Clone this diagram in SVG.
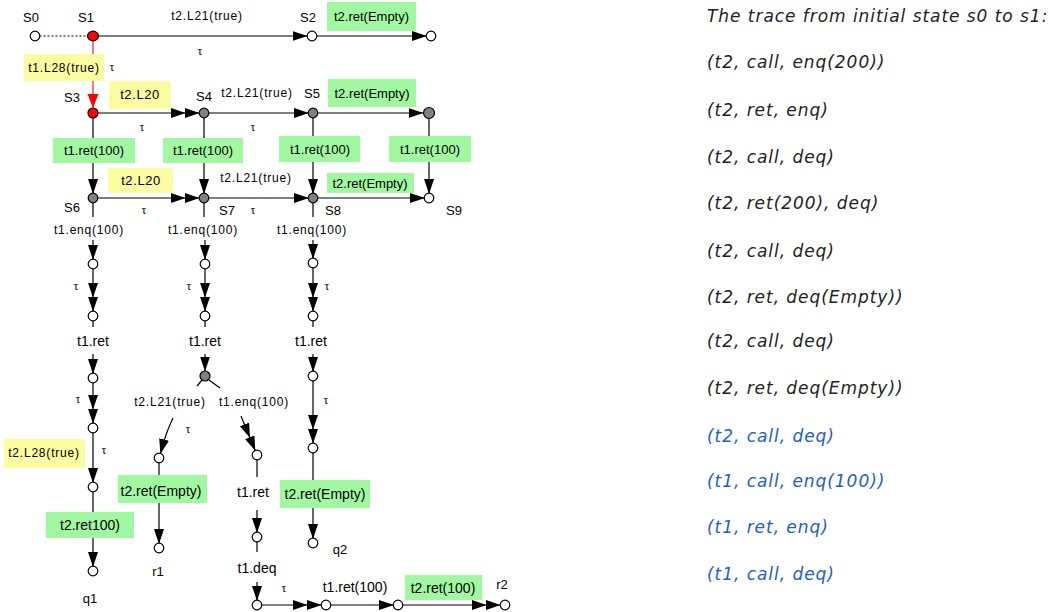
<svg xmlns="http://www.w3.org/2000/svg" width="1057" height="612" viewBox="0 0 1057 612">
<style>
.ln{stroke:#000;stroke-width:1.2;fill:none}
.red{stroke:#f04040;stroke-width:1.4;fill:none}
.n{stroke:#000;stroke-width:1.2;fill:#fff}
.g{stroke:#000;stroke-width:1.2;fill:#808080}
.r{stroke:#000;stroke-width:1.2;fill:#f00}
.st{font-family:"Liberation Sans",Arial,sans-serif;font-size:13px;fill:#000;text-anchor:middle}
.tl{font-family:"Liberation Sans",Arial,sans-serif;font-size:12px;letter-spacing:0.8px;fill:#000;text-anchor:middle}
.bl{font-family:"Liberation Sans",Arial,sans-serif;font-size:13px;fill:#000;text-anchor:middle}
.bl14{font-family:"Liberation Sans",Arial,sans-serif;font-size:14px;fill:#000;text-anchor:middle}
.tau{font-family:"Liberation Serif","DejaVu Serif",serif;font-size:12px;fill:#000;text-anchor:middle}
.gr{fill:#a0f8a0}
.ye{fill:#fcfca0}
.tr{font-family:"DejaVu Sans",Verdana,sans-serif;font-style:italic;font-size:17px;letter-spacing:0.95px;fill:#222}
.blue{fill:#2060c8}
</style>
<defs>
<marker id="a" markerUnits="userSpaceOnUse" markerWidth="16" markerHeight="11" refX="14.5" refY="5" orient="auto"><path d="M0,0 L15,5 L0,10 z" fill="#000"/></marker>
<marker id="aa" markerUnits="userSpaceOnUse" markerWidth="30" markerHeight="11" refX="28.5" refY="5" orient="auto"><path d="M0,0 L14.5,5 L0,10 z M14,0 L28.5,5 L14,10 z" fill="#000"/></marker>
<marker id="ar" markerUnits="userSpaceOnUse" markerWidth="16" markerHeight="12" refX="14" refY="5.5" orient="auto"><path d="M0,0 L14,5.5 L0,11 z" fill="#f00"/></marker>
</defs>

<g id="connectors">
<line class="ln" x1="39.5" y1="36" x2="87" y2="36" stroke-dasharray="2,2"/>
<line class="ln" x1="98" y1="36" x2="307" y2="36" marker-end="url(#a)"/>
<line class="ln" x1="316.5" y1="36" x2="426.5" y2="36" marker-end="url(#a)"/>
<line class="red" x1="93" y1="41" x2="93" y2="108" marker-end="url(#ar)"/>
<line class="ln" x1="98" y1="113" x2="199.5" y2="113" marker-end="url(#aa)"/>
<line class="ln" x1="208.5" y1="113" x2="308.5" y2="113" marker-end="url(#a)"/>
<line class="ln" x1="317.5" y1="113" x2="423" y2="113" marker-end="url(#a)"/>
<line class="ln" x1="93" y1="118" x2="93" y2="193.5" marker-end="url(#a)"/>
<line class="ln" x1="204" y1="118" x2="204" y2="193.5" marker-end="url(#a)"/>
<line class="ln" x1="313" y1="118" x2="313" y2="193.5" marker-end="url(#a)"/>
<line class="ln" x1="429" y1="119" x2="429" y2="193.5" marker-end="url(#a)"/>
<line class="ln" x1="97.5" y1="198" x2="199.5" y2="198" marker-end="url(#aa)"/>
<line class="ln" x1="208.5" y1="198" x2="308.5" y2="198" marker-end="url(#a)"/>
<line class="ln" x1="317.5" y1="198" x2="424.5" y2="198" marker-end="url(#a)"/>
<line class="ln" x1="93" y1="203" x2="93" y2="217"/>
<line class="ln" x1="93" y1="240" x2="93" y2="259.5" marker-end="url(#a)"/>
<line class="ln" x1="93" y1="268.5" x2="93" y2="311.5" marker-end="url(#aa)"/>
<line class="ln" x1="93" y1="320.5" x2="93" y2="327"/>
<line class="ln" x1="93" y1="354" x2="93" y2="373.5" marker-end="url(#a)"/>
<line class="ln" x1="93" y1="382.5" x2="93" y2="423.5" marker-end="url(#aa)"/>
<line class="ln" x1="93" y1="432.5" x2="93" y2="482.5" marker-end="url(#a)"/>
<line class="ln" x1="93" y1="491.5" x2="93" y2="566.5" marker-end="url(#a)"/>
<line class="ln" x1="204" y1="203" x2="204" y2="217"/>
<line class="ln" x1="205" y1="240" x2="205" y2="259.5" marker-end="url(#a)"/>
<line class="ln" x1="205" y1="268.5" x2="205" y2="311.5" marker-end="url(#aa)"/>
<line class="ln" x1="205" y1="320.5" x2="205" y2="327"/>
<line class="ln" x1="205" y1="354" x2="205" y2="371" marker-end="url(#a)"/>
<line class="ln" x1="202" y1="380" x2="197" y2="386"/>
<line class="ln" x1="209" y1="380" x2="220" y2="388"/>
<path class="ln" d="M173,418 Q166,432 160.5,453.5" marker-end="url(#a)"/>
<line class="ln" x1="241" y1="416" x2="255.3" y2="450.8" marker-end="url(#aa)"/>
<line class="ln" x1="159" y1="462.5" x2="159" y2="543.5" marker-end="url(#a)"/>
<line class="ln" x1="257" y1="459.5" x2="257" y2="477"/>
<line class="ln" x1="257" y1="510" x2="257" y2="532.5" marker-end="url(#a)"/>
<line class="ln" x1="257" y1="541.5" x2="257" y2="552"/>
<line class="ln" x1="257" y1="582" x2="257" y2="600.5" marker-end="url(#a)"/>
<line class="ln" x1="261.5" y1="605" x2="321.5" y2="605" marker-end="url(#aa)"/>
<line class="ln" x1="330.5" y1="605" x2="393.5" y2="605" marker-end="url(#a)"/>
<line class="ln" x1="402.5" y1="605" x2="500.5" y2="605" marker-end="url(#aa)"/>
<line class="ln" x1="313" y1="203" x2="313" y2="217"/>
<line class="ln" x1="313" y1="240" x2="313" y2="258.5" marker-end="url(#a)"/>
<line class="ln" x1="313" y1="267.5" x2="313" y2="311.5" marker-end="url(#aa)"/>
<line class="ln" x1="313" y1="320.5" x2="313" y2="327"/>
<line class="ln" x1="313" y1="354" x2="313" y2="371.5" marker-end="url(#a)"/>
<line class="ln" x1="313" y1="380.5" x2="313" y2="443.5" marker-end="url(#aa)"/>
<line class="ln" x1="313" y1="452.5" x2="313" y2="538.5" marker-end="url(#a)"/>
</g>

<g id="labels">
<text class="tl" x="207" y="20">t2.L21(true)</text>
<text class="tau" x="200" y="55">τ</text>
<rect class="gr" x="327" y="2" width="89" height="29"/>
<text class="bl" x="371.5" y="21">t2.ret(Empty)</text>
<rect class="ye" x="24" y="54" width="80" height="27"/>
<text class="tl" x="64" y="72">t1.L28(true)</text>
<text class="tau" x="112" y="71">τ</text>
<rect class="ye" x="109" y="81" width="62" height="28"/>
<text class="bl" x="140" y="99" style="letter-spacing:0.6px">t2.L20</text>
<text class="tl" x="257" y="97">t2.L21(true)</text>
<rect class="gr" x="328" y="79" width="88" height="28"/>
<text class="bl" x="372" y="98">t2.ret(Empty)</text>
<text class="tau" x="142" y="131">τ</text>
<text class="tau" x="253" y="131">τ</text>
<rect class="gr" x="53" y="138" width="82" height="25"/>
<text class="bl" x="94" y="155">t1.ret(100)</text>
<rect class="gr" x="163" y="138" width="80" height="25"/>
<text class="bl" x="203" y="155">t1.ret(100)</text>
<rect class="gr" x="279" y="136" width="81" height="26"/>
<text class="bl" x="320" y="154">t1.ret(100)</text>
<rect class="gr" x="389" y="136" width="82" height="26"/>
<text class="bl" x="430" y="154">t1.ret(100)</text>
<rect class="ye" x="108" y="168" width="65" height="25"/>
<text class="bl" x="141" y="185" style="letter-spacing:0.6px">t2.L20</text>
<rect x="218" y="163" width="76" height="22" fill="#fff"/>
<text class="tl" x="256" y="182">t2.L21(true)</text>
<rect class="gr" x="327" y="173" width="87" height="20"/>
<text class="bl" x="370" y="188">t2.ret(Empty)</text>
<text class="tau" x="144" y="214">τ</text>
<text class="tau" x="253" y="214">τ</text>
<text class="tl" x="89" y="234">t1.enq(100)</text>
<text class="tl" x="203" y="234">t1.enq(100)</text>
<text class="tl" x="312" y="234">t1.enq(100)</text>
<text class="tau" x="76" y="290">τ</text>
<text class="tau" x="189" y="290">τ</text>
<text class="tau" x="327" y="290">τ</text>
<text class="bl14" x="93" y="346">t1.ret</text>
<text class="bl14" x="205" y="346">t1.ret</text>
<text class="bl14" x="311" y="346">t1.ret</text>
<text class="tau" x="78" y="403">τ</text>
<text class="tl" x="170" y="406">t2.L21(true)</text>
<text class="tl" x="254" y="406">t1.enq(100)</text>
<text class="tau" x="326" y="404">τ</text>
<text class="tau" x="188" y="433">τ</text>
<rect class="ye" x="4" y="439" width="81" height="29"/>
<text class="tl" x="44" y="457">t2.L28(true)</text>
<text class="tau" x="104" y="454">τ</text>
<rect class="gr" x="118" y="475" width="89" height="28"/>
<text class="bl14" x="161" y="496">t2.ret(Empty)</text>
<rect class="gr" x="280" y="480" width="90" height="28"/>
<text class="bl14" x="325" y="499">t2.ret(Empty)</text>
<text class="bl14" x="253" y="497">t1.ret</text>
<rect class="gr" x="46" y="512" width="88" height="26"/>
<text class="bl14" x="90" y="530">t2.ret100)</text>
<text class="bl14" x="257" y="573">t1.deq</text>
<text class="tau" x="284" y="592">τ</text>
<text class="bl14" x="355" y="592">t1.ret(100)</text>
<rect class="gr" x="405" y="575" width="77" height="25"/>
<text class="bl14" x="443" y="593">t2.ret(100)</text>
</g>

<g id="S0"><circle class="n" cx="35" cy="36" r="4.8"/><text class="st" x="31" y="22">S0</text></g>
<g id="S1"><ellipse class="r" cx="93" cy="36" rx="5.5" ry="4.8"/><text class="st" x="86" y="22">S1</text></g>
<g id="S2"><circle class="n" cx="312" cy="36" r="4.8"/><text class="st" x="308" y="22">S2</text></g>
<g id="E1"><circle class="n" cx="431" cy="36" r="4.8"/></g>
<g id="S3"><circle class="r" cx="93" cy="113" r="5"/><text class="st" x="72" y="102">S3</text></g>
<g id="S4"><circle class="g" cx="204" cy="113" r="4.8"/><text class="st" x="204" y="101">S4</text></g>
<g id="S5"><circle class="g" cx="313" cy="113" r="4.8"/><text class="st" x="312" y="98">S5</text></g>
<g id="E2"><circle class="g" cx="429" cy="113" r="5.5"/></g>
<g id="S6"><circle class="g" cx="93" cy="198" r="4.8"/><text class="st" x="72" y="212">S6</text></g>
<g id="S7"><circle class="g" cx="204" cy="198" r="4.8"/><text class="st" x="227" y="215">S7</text></g>
<g id="S8"><circle class="g" cx="313" cy="198" r="4.8"/><text class="st" x="333" y="215">S8</text></g>
<g id="S9"><circle class="n" cx="429" cy="198" r="4.8"/><text class="st" x="454" y="215">S9</text></g>
<g id="a1"><circle class="n" cx="93" cy="264" r="4.8"/></g>
<g id="a2"><circle class="n" cx="93" cy="316" r="4.8"/></g>
<g id="a3"><circle class="n" cx="93" cy="378" r="4.8"/></g>
<g id="a4"><circle class="n" cx="93" cy="428" r="4.8"/></g>
<g id="a5"><circle class="n" cx="93" cy="487" r="4.8"/></g>
<g id="q1"><circle class="n" cx="93" cy="571" r="4.8"/><text class="st" x="90" y="603">q1</text></g>
<g id="b1"><circle class="n" cx="205" cy="264" r="4.8"/></g>
<g id="b2"><circle class="n" cx="205" cy="316" r="4.8"/></g>
<g id="b3"><circle class="g" cx="205" cy="376" r="5"/></g>
<g id="b4"><circle class="n" cx="159" cy="458" r="4.8"/></g>
<g id="r1"><circle class="n" cx="159" cy="548" r="4.8"/><text class="st" x="158" y="576">r1</text></g>
<g id="b5"><circle class="n" cx="257" cy="455" r="4.8"/></g>
<g id="b6"><circle class="n" cx="257" cy="537" r="4.8"/></g>
<g id="b7"><circle class="n" cx="257" cy="605" r="4.8"/></g>
<g id="b8"><circle class="n" cx="326" cy="605" r="4.8"/></g>
<g id="b9"><circle class="n" cx="398" cy="605" r="4.8"/></g>
<g id="r2"><circle class="n" cx="505" cy="605" r="4.8"/><text class="st" x="502" y="589">r2</text></g>
<g id="c1"><circle class="n" cx="313" cy="263" r="4.8"/></g>
<g id="c2"><circle class="n" cx="313" cy="316" r="4.8"/></g>
<g id="c3"><circle class="n" cx="313" cy="376" r="4.8"/></g>
<g id="c4"><circle class="n" cx="313" cy="448" r="4.8"/></g>
<g id="q2"><circle class="n" cx="313" cy="543" r="4.8"/><text class="st" x="340" y="554">q2</text></g>

<g id="trace">
<text class="tr" x="707" y="22">The trace from initial state s0 to s1:</text>
<text class="tr" x="707" y="68">(t2, call, enq(200))</text>
<text class="tr" x="707" y="116">(t2, ret, enq)</text>
<text class="tr" x="707" y="163">(t2, call, deq)</text>
<text class="tr" x="707" y="209">(t2, ret(200), deq)</text>
<text class="tr" x="707" y="257">(t2, call, deq)</text>
<text class="tr" x="707" y="303">(t2, ret, deq(Empty))</text>
<text class="tr" x="707" y="347">(t2, call, deq)</text>
<text class="tr" x="707" y="394">(t2, ret, deq(Empty))</text>
<text class="tr blue" x="707" y="442">(t2, call, deq)</text>
<text class="tr blue" x="707" y="487">(t1, call, enq(100))</text>
<text class="tr blue" x="707" y="533">(t1, ret, enq)</text>
<text class="tr blue" x="707" y="580">(t1, call, deq)</text>
</g>
</svg>
